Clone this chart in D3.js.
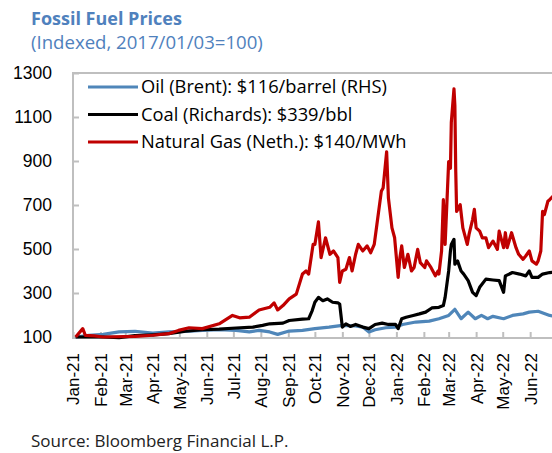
<!DOCTYPE html>
<html>
<head>
<meta charset="utf-8">
<script src="https://cdn.jsdelivr.net/npm/d3@7"></script>
<style>
  body { margin: 0; background: #fff; overflow: hidden; }
  svg { display: block; font-family: "Open Sans", sans-serif; }
</style>
</head>
<body>
<div class="chart"></div>
<script>
// values, indexed (2017/01/03 = 100)
var oil = [
  ["2021-01-04", 100], ["2021-01-19", 107], ["2021-02-04", 112], ["2021-02-22", 123],
  ["2021-03-12", 126], ["2021-04-01", 118], ["2021-04-19", 123], ["2021-05-08", 126],
  ["2021-05-27", 130], ["2021-06-15", 133], ["2021-07-04", 130], ["2021-07-19", 123],
  ["2021-07-30", 130], ["2021-08-11", 123], ["2021-08-20", 112], ["2021-09-02", 127],
  ["2021-09-17", 130], ["2021-10-01", 138], ["2021-10-17", 145], ["2021-11-01", 153],
  ["2021-11-16", 150], ["2021-11-24", 145], ["2021-12-01", 123], ["2021-12-08", 133],
  ["2021-12-20", 142], ["2021-12-31", 145], ["2022-01-08", 157], ["2022-01-23", 168],
  ["2022-02-07", 172], ["2022-02-18", 183], ["2022-03-01", 198], ["2022-03-08", 226],
  ["2022-03-15", 183], ["2022-03-23", 213], ["2022-03-31", 183], ["2022-04-07", 198],
  ["2022-04-14", 183], ["2022-04-20", 194], ["2022-05-02", 183], ["2022-05-12", 198],
  ["2022-05-24", 205], ["2022-05-31", 213], ["2022-06-10", 217], ["2022-06-23", 198],
  ["2022-06-28", 195]
];

var coal = [
  ["2021-01-04", 100], ["2021-02-04", 100], ["2021-02-22", 97], ["2021-03-12", 106],
  ["2021-04-01", 110], ["2021-04-19", 115], ["2021-05-08", 126], ["2021-05-27", 133],
  ["2021-06-15", 136], ["2021-07-04", 141], ["2021-07-23", 145], ["2021-08-03", 153],
  ["2021-08-11", 160], ["2021-08-26", 163], ["2021-09-02", 175], ["2021-09-17", 181],
  ["2021-09-24", 183], ["2021-09-28", 220], ["2021-10-01", 258], ["2021-10-05", 280],
  ["2021-10-10", 265], ["2021-10-15", 273], ["2021-10-21", 258], ["2021-10-27", 255],
  ["2021-10-29", 250], ["2021-11-01", 145], ["2021-11-05", 160], ["2021-11-10", 148],
  ["2021-11-16", 157], ["2021-11-24", 145], ["2021-12-01", 138], ["2021-12-08", 157],
  ["2021-12-16", 163], ["2021-12-23", 157], ["2021-12-31", 157], ["2022-01-03", 138],
  ["2022-01-07", 183], ["2022-01-12", 190], ["2022-01-20", 198], ["2022-01-27", 205],
  ["2022-02-03", 213], ["2022-02-10", 232], ["2022-02-18", 235], ["2022-02-23", 243],
  ["2022-02-25", 280], ["2022-03-01", 400], ["2022-03-03", 491], ["2022-03-04", 521],
  ["2022-03-07", 544], ["2022-03-08", 431], ["2022-03-11", 446], ["2022-03-15", 400],
  ["2022-03-18", 386], ["2022-03-23", 356], ["2022-03-28", 303], ["2022-04-01", 288],
  ["2022-04-05", 326], ["2022-04-12", 363], ["2022-04-20", 359], ["2022-04-27", 356],
  ["2022-05-02", 303], ["2022-05-04", 378], ["2022-05-12", 393], ["2022-05-20", 386],
  ["2022-05-27", 378], ["2022-05-31", 400], ["2022-06-03", 371], ["2022-06-10", 371],
  ["2022-06-15", 386], ["2022-06-23", 393], ["2022-06-28", 395]
];

var gas = [
  ["2021-01-04", 100], ["2021-01-12", 138], ["2021-01-15", 107], ["2021-01-25", 105],
  ["2021-02-04", 100], ["2021-03-12", 103], ["2021-04-01", 108], ["2021-04-19", 115],
  ["2021-04-30", 130], ["2021-05-12", 142], ["2021-05-27", 138], ["2021-06-15", 160],
  ["2021-06-30", 198], ["2021-07-08", 187], ["2021-07-19", 190], ["2021-07-30", 223],
  ["2021-08-11", 235], ["2021-08-16", 255], ["2021-08-20", 223], ["2021-08-26", 243],
  ["2021-09-02", 273], ["2021-09-10", 295], ["2021-09-17", 386], ["2021-09-21", 400],
  ["2021-09-24", 386], ["2021-09-29", 521], ["2021-10-01", 521], ["2021-10-05", 623],
  ["2021-10-08", 461], ["2021-10-13", 551], ["2021-10-18", 476], ["2021-10-22", 491],
  ["2021-10-27", 461], ["2021-10-29", 348], ["2021-11-01", 400], ["2021-11-05", 408],
  ["2021-11-09", 461], ["2021-11-12", 400], ["2021-11-16", 476], ["2021-11-19", 521],
  ["2021-11-24", 491], ["2021-11-29", 514], ["2021-12-03", 483], ["2021-12-07", 521],
  ["2021-12-10", 611], ["2021-12-15", 762], ["2021-12-17", 777], ["2021-12-21", 942],
  ["2021-12-23", 732], ["2021-12-27", 596], ["2021-12-30", 551], ["2022-01-03", 371],
  ["2022-01-05", 461], ["2022-01-07", 514], ["2022-01-10", 416], ["2022-01-14", 476],
  ["2022-01-18", 400], ["2022-01-21", 416], ["2022-01-25", 498], ["2022-01-28", 438],
  ["2022-02-02", 416], ["2022-02-04", 446], ["2022-02-09", 416], ["2022-02-14", 378],
  ["2022-02-17", 400], ["2022-02-18", 386], ["2022-02-21", 491], ["2022-02-23", 724],
  ["2022-02-25", 521], ["2022-03-01", 897], ["2022-03-03", 867], ["2022-03-04", 1077],
  ["2022-03-07", 1228], ["2022-03-08", 1153], ["2022-03-09", 852], ["2022-03-10", 671],
  ["2022-03-14", 701], ["2022-03-17", 596], ["2022-03-22", 521], ["2022-03-24", 566],
  ["2022-03-28", 634], ["2022-03-30", 680], ["2022-04-01", 596], ["2022-04-05", 581],
  ["2022-04-08", 551], ["2022-04-12", 551], ["2022-04-15", 506], ["2022-04-20", 536],
  ["2022-04-25", 498], ["2022-04-27", 581], ["2022-05-02", 506], ["2022-05-04", 574],
  ["2022-05-06", 506], ["2022-05-11", 574], ["2022-05-16", 506], ["2022-05-19", 476],
  ["2022-05-24", 453], ["2022-05-27", 468], ["2022-05-31", 491], ["2022-06-03", 446],
  ["2022-06-08", 431], ["2022-06-10", 446], ["2022-06-13", 491], ["2022-06-15", 671],
  ["2022-06-17", 656], ["2022-06-21", 717], ["2022-06-23", 724], ["2022-06-28", 745]
];

var seriesNames = [
  "Oil (Brent): $116/barrel (RHS)",
  "Coal (Richards): $339/bbl",
  "Natural Gas (Neth.): $140/MWh"
];
var seriesColors = ["#4f86b9", "#000000", "#c00000"];
var yTicks = [100, 300, 500, 700, 900, 1100, 1300];
var tickMonths = d3.timeMonth.range(new Date(2021, 0, 1), new Date(2022, 6, 1));

var parse = d3.timeParse("%Y-%m-%d");
var series = [oil, coal, gas].map(function(s) {
  return s.map(function(d) { return { date: parse(d[0]), value: d[1] }; });
});

var svg = d3.select(".chart").append("svg")
    .attr("width", 552)
    .attr("height", 453);

var plotLeft = 73, plotTop = 73, plotBottom = 338, plotRight = 600;

var x = d3.scaleTime()
    .domain([new Date(2021, 0, 1), new Date(2022, 7, 1)])
    .range([plotLeft, plotLeft + 577 * 0.886]);

var y = d3.scaleLinear()
    .domain([100, 1300])
    .range([plotBottom - 1, plotTop]);

// titles
svg.append("text")
    .attr("x", 31)
    .attr("y", 25)
    .style("font-size", "18px")
    .style("font-weight", "bold")
    .style("fill", "#4f81bd")
    .text("Fossil Fuel Prices");

svg.append("text")
    .attr("x", 31)
    .attr("y", 49)
    .style("font-size", "18.6px")
    .style("fill", "#4f81bd")
    .text("(Indexed, 2017/01/03=100)");

// axes
var yAxis = svg.append("g")
    .attr("transform", "translate(" + plotLeft + ",0)")
    .call(d3.axisLeft(y).tickValues(yTicks).tickFormat(d3.format("d"))
      .tickSizeInner(-6).tickSizeOuter(0).tickPadding(21));

var xAxis = svg.append("g")
    .attr("transform", "translate(0," + plotBottom + ")")
    .call(d3.axisBottom(x).tickValues(tickMonths).tickFormat(d3.timeFormat("%b-%y"))
      .tickSizeInner(-6).tickSizeOuter(0));

svg.selectAll(".domain").remove();

svg.selectAll(".tick line")
    .style("stroke", "#bfbfbf")
    .style("stroke-width", 2);

yAxis.selectAll("text")
    .style("font-size", "17.5px")
    .style("fill", "#000");

xAxis.selectAll("text")
    .attr("transform", "rotate(-90)")
    .attr("x", -15)
    .attr("y", 0)
    .attr("dy", "0.35em")
    .style("text-anchor", "end")
    .style("font-size", "17px")
    .style("fill", "#000");

// plot frame
svg.append("path")
    .attr("d", "M" + plotRight + "," + plotTop + "H" + plotLeft + "V" + plotBottom + "H" + plotRight)
    .style("fill", "none")
    .style("stroke", "#bfbfbf")
    .style("stroke-width", 2);

// lines
var line = d3.line()
    .x(function(d) { return x(d.date); })
    .y(function(d) { return y(d.value); });

svg.append("g")
  .selectAll("path")
    .data(series)
  .enter().append("path")
    .attr("d", line)
    .style("fill", "none")
    .style("stroke", function(d, i) { return seriesColors[i]; })
    .style("stroke-width", 3.2)
    .style("stroke-linejoin", "round");

// legend
var legend = svg.append("g")
  .selectAll("g")
    .data(seriesNames)
  .enter().append("g")
    .attr("transform", function(d, i) { return "translate(88," + (87 + i * 27.5) + ")"; });

legend.append("line")
    .attr("x2", 50)
    .style("stroke", function(d, i) { return seriesColors[i]; })
    .style("stroke-width", 3);

legend.append("text")
    .attr("x", 53)
    .attr("dy", "0.35em")
    .style("font-size", "18.3px")
    .style("fill", "#000")
    .text(function(d) { return d; });

svg.append("text")
    .attr("x", 31)
    .attr("y", 447)
    .style("font-size", "17px")
    .style("fill", "#222")
    .text("Source: Bloomberg Financial L.P.");
</script>
</body>
</html>
